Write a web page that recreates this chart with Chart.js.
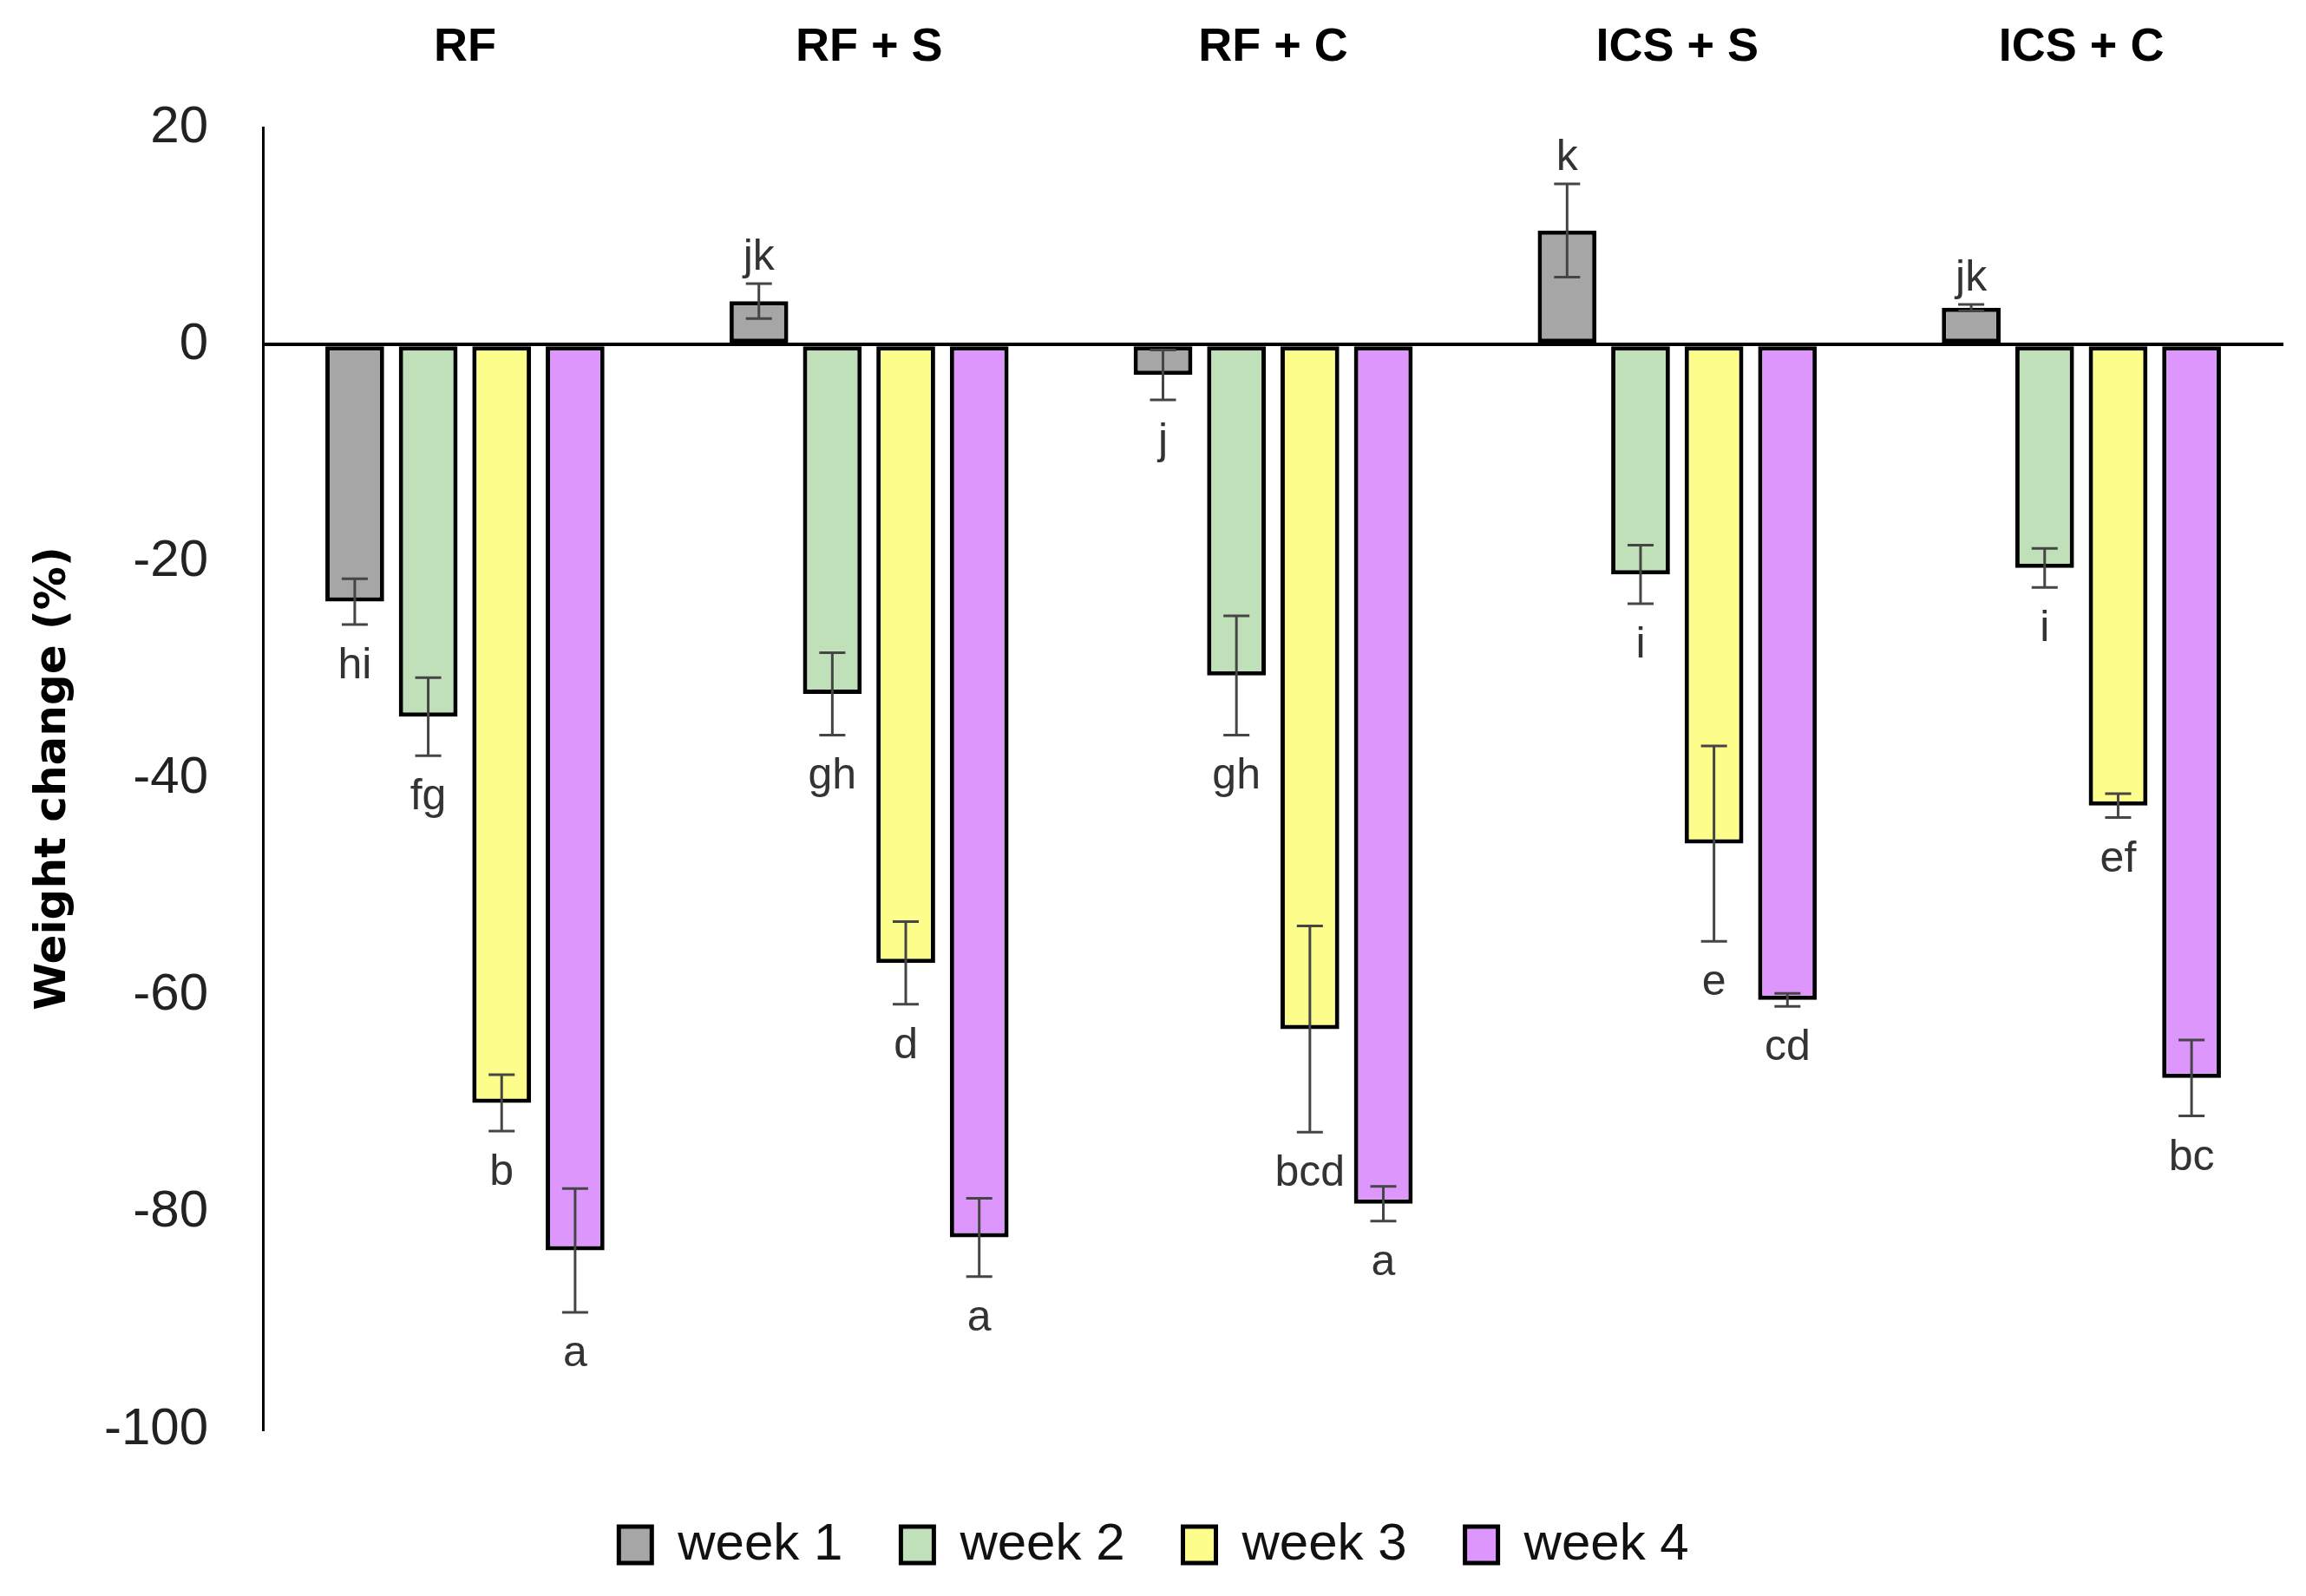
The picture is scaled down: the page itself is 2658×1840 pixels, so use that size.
<!DOCTYPE html>
<html>
<head>
<meta charset="utf-8">
<script src="https://cdn.jsdelivr.net/npm/chart.js@4.4.1/dist/chart.umd.min.js"></script>
<style>
    html, body { margin: 0; padding: 0; background: #fff; }
    #wrap { width: 2658px; height: 1840px; }
</style>
</head>
<body>
<div id="wrap"><canvas id="myChart"></canvas></div>
<script>
// Данные графика
const groups = ['RF', 'RF + S', 'RF + C', 'ICS + S', 'ICS + C'];
const weeks = ['week 1', 'week 2', 'week 3', 'week 4'];
const yTicks = [20, 0, -20, -40, -60, -80, -100];

const week1 = [-23.7, 4.0, -2.8, 10.5, 3.4];
const week2 = [-34.3, -32.2, -30.5, -21.2, -20.6];
const week3 = [-69.9, -57.0, -63.1, -46.0, -42.5];
const week4 = [-83.5, -82.3, -79.2, -60.4, -67.6];

const err1 = [2.1, 1.6, 2.3, 4.3, 0.3];
const err2 = [3.6, 3.8, 5.5, 2.7, 1.8];
const err3 = [2.6, 3.8, 9.5, 9.0, 1.1];
const err4 = [5.7, 3.6, 1.6, 0.6, 3.5];

const letters1 = ['hi', 'jk', 'j', 'k', 'jk'];
const letters2 = ['fg', 'gh', 'gh', 'i', 'i'];
const letters3 = ['b', 'd', 'bcd', 'e', 'ef'];
const letters4 = ['a', 'a', 'a', 'cd', 'bc'];

const colors = ['#a6a6a6', '#c0e0b9', '#fdfd8c', '#dc96fc'];
const FONT = "'Liberation Sans', Arial, sans-serif";

const values = [week1, week2, week3, week4];
const errors = [err1, err2, err3, err4];
const letters = [letters1, letters2, letters3, letters4];

// Планки погрешностей и буквы
const errorBars = {
    id: 'errorBars',
    afterDatasetsDraw(chart) {
        const {ctx, scales: {y}} = chart;
        ctx.save();
        chart.data.datasets.forEach((ds, i) => {
            const meta = chart.getDatasetMeta(i);
            meta.data.forEach((bar, j) => {
                const v = ds.data[j];
                const e = errors[i][j];
                const yTop = y.getPixelForValue(v + e);
                const yBot = y.getPixelForValue(v - e);
                const x = bar.x;
                ctx.strokeStyle = '#454545';
                ctx.lineWidth = 3;
                ctx.beginPath();
                ctx.moveTo(x, yTop); ctx.lineTo(x, yBot);
                ctx.moveTo(x - 15, yTop); ctx.lineTo(x + 15, yTop);
                ctx.moveTo(x - 15, yBot); ctx.lineTo(x + 15, yBot);
                ctx.stroke();

                ctx.fillStyle = '#333';
                ctx.font = `50px ${FONT}`;
                ctx.textAlign = 'center';
                ctx.textBaseline = 'alphabetic';
                const ly = v >= 0 ? yTop - 16 : yBot + 62;
                ctx.fillText(letters[i][j], x, ly);
            });
        });
        ctx.restore();
    }
};

function renderChart() {
    const ctx = document.getElementById('myChart').getContext('2d');
    new Chart(ctx, {
        type: 'bar',
        data: {
            labels: groups,
            datasets: weeks.map((w, i) => ({
                label: w,
                data: values[i],
                backgroundColor: colors[i],
                borderColor: '#000',
                borderWidth: 5,
                borderSkipped: false,
                categoryPercentage: 0.727,
                barPercentage: 0.8,
            })),
        },
        options: {
            responsive: true,
            maintainAspectRatio: false,
            animation: false,
            devicePixelRatio: 1,
            layout: { padding: { top: 23, left: 28, right: 26, bottom: 19 } },
            plugins: {
                tooltip: { enabled: false },
                legend: {
                    position: 'bottom',
                    title: { display: true, text: '', font: { size: 10 }, padding: { top: 24, bottom: 0 } },
                    labels: {
                        boxWidth: 38,
                        boxHeight: 42,
                        padding: 67,
                        color: '#111',
                        font: { family: FONT, size: 60 },
                    },
                },
            },
            scales: {
                x: {
                    position: 'top',
                    grid: { display: false, drawTicks: false },
                    border: { display: false },
                    ticks: {
                        padding: 59,
                        color: '#000',
                        font: { family: FONT, size: 54, weight: 'bold' },
                    },
                    afterFit: (axis) => { axis.height = 124; },
                },
                y: {
                    min: -100,
                    max: 20,
                    afterBuildTicks: (axis) => {
                        axis.ticks = yTicks.map((v) => ({ value: v }));
                    },
                    afterFit: (axis) => { axis.width = 275; },
                    grid: {
                        drawTicks: false,
                        color: (c) => (c.tick && c.tick.value === 0 ? '#000' : 'rgba(0,0,0,0)'),
                        lineWidth: 4,
                    },
                    border: { display: true, color: '#000', width: 3 },
                    ticks: {
                        padding: 63,
                        color: '#222',
                        font: { family: FONT, size: 60 },
                    },
                    title: {
                        display: true,
                        text: 'Weight change (%)',
                        color: '#000',
                        padding: { top: 4, bottom: 10 },
                        font: { family: "'DejaVu Sans', Verdana, sans-serif", size: 50, weight: 'bold' },
                    },
                },
            },
        },
        plugins: [errorBars],
    });
}

document.addEventListener('DOMContentLoaded', () => {
    renderChart();
});
</script>
</body>
</html>
